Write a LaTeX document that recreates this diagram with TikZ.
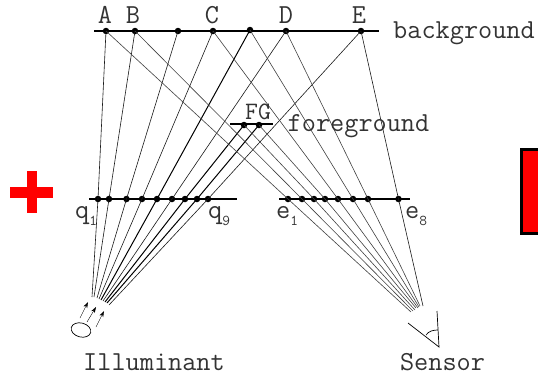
\documentclass[tikz,border=0pt]{standalone}
\usepackage{tikz}
\usetikzlibrary{positioning,arrows.meta,shapes.geometric}
\usepackage{xcolor}
\newcommand{\subnum}[1]{\raisebox{-7pt}{\fontsize{15}{15}\selectfont #1}}
\begin{document}
\begin{tikzpicture}[
      x=1pt, y=-1pt,
      dot/.style={circle, fill=black, inner sep=0pt, minimum size=6.5pt},
      lbl/.style={font=\fontsize{27.5}{30}\ttfamily, inner sep=0pt, text=black!80},
      surface/.style={line width=1.5pt},
      ray/.style={line width=0.6pt, black!90},
      rayfg/.style={line width=1pt},
      >={Stealth[length=6pt, width=4pt]}]
    \useasboundingbox (0,0) rectangle (538,375);
    % surfaces
    \coordinate (bgl) at (94,31);
    \coordinate (bgr) at (379,31);
    \coordinate (fgl) at (230,124);
    \coordinate (fgr) at (273,124);
    \coordinate (ql) at (89,199);
    \coordinate (qr) at (237,199);
    \coordinate (el) at (279,199);
    \coordinate (er) at (410,199);
    \draw[surface] (bgl) -- (bgr);
    \draw[line width=2pt] (fgl) -- (fgr);
    \draw[surface] (ql) -- (qr);
    \draw[surface] (el) -- (er);
    % points on the background
    \foreach \name/\px/\py in {A/106/31, B/135/31, X/178/31, C/213/31, Y/250/30, D/286/31, E/361/31, F/244/125, G/259/125}
      \node[dot] (\name) at (\px,\py) {};
    % points on the q and e lines
    \foreach \i/\px in {1/98, 2/109, 3/126.5, 4/142, 5/157, 6/172, 7/185, 8/197, 9/208}
      \node[dot] (q\i) at (\px,199) {};
    \foreach \i/\px in {1/288, 2/302, 3/314, 4/325, 5/338, 6/353, 7/368, 8/398.5}
      \node[dot] (e\i) at (\px,199) {};
    % ray ends near illuminant and sensor
    \foreach \i/\px/\py in {1/92/297, 2/94/297, 3/97/298, 4/99/299, 5/101/300, 6/103/301, 7/105/302, 8/107/303, 9/109/305}
      \coordinate (il\i) at (\px,\py);
    \foreach \i/\px/\py in {1/411/312, 2/413/311, 3/415/310, 4/416/308, 5/418/308, 6/419/307, 7/420/306, 8/423/306}
      \coordinate (se\i) at (\px,\py);
    % rays to illuminant
    \foreach \from/\i in {A/1, B/2, X/3, C/4, D/6, E/9}
      \draw[ray] (\from.center) -- (q\i.center) -- (il\i);
    \draw[rayfg] (Y.center) -- (q5.center) -- (il5);
    \draw[rayfg] (F.center) -- (q7.center) -- (il7);
    \draw[rayfg] (G.center) -- (q8.center) -- (il8);
    % rays to sensor
    \foreach \from/\i in {A/1, B/2, F/3, G/4, C/5, Y/6, D/7}
      \draw[ray, black!75] (\from.center) -- (e\i.center) -- (se\i);
    \draw[ray] (E.center) -- (e8.center) -- (se8);
    % labels
    \node[lbl] (lblA) at (105,15) {A};
    \node[lbl] (lblB) at (133,15) {B};
    \node[lbl] (lblC) at (212,15) {C};
    \node[lbl] (lblD) at (286,15) {D};
    \node[lbl] (lblE) at (359,15) {E};
    \node[lbl] (lblbg) at (464,33) {background};
    \node[lbl] (lblfg) at (358.5,126) {foreground};
    \node[lbl, font=\fontsize{25}{30}\ttfamily] (lblFG) at (258,112) {FG};
    \node[lbl, anchor=base west] (lblq1) at (75,218) {q\subnum{1}};
    \node[lbl, anchor=base west] (lblq9) at (208,218) {q\subnum{9}};
    \node[lbl, anchor=base west] (lble1) at (276,218) {e\subnum{1}};
    \node[lbl, anchor=base west] (lble8) at (405,218) {e\subnum{8}};
    \node[lbl] (lblil) at (154,362) {Illuminant};
    \node[lbl] (lblse) at (442.5,362) {Sensor};
    % illuminant
    \node[draw, line width=0.7pt, ellipse, rotate=-15, minimum width=20pt, minimum height=14pt, inner sep=0pt] (lamp) at (81,330) {};
    \coordinate (a1s) at (80,318); \coordinate (a1e) at (88,302);
    \coordinate (a2s) at (87,322); \coordinate (a2e) at (96,307);
    \coordinate (a3s) at (96,327); \coordinate (a3e) at (104,311);
    \draw[->] (a1s) -- (a1e);
    \draw[->] (a2s) -- (a2e);
    \draw[->] (a3s) -- (a3e);
    % sensor
    \coordinate (eyel) at (408,323);
    \coordinate (eyec) at (439,347);
    \coordinate (eyer) at (437,311);
    \draw[line width=0.7pt] (eyel) -- (eyec) -- (eyer);
    \coordinate (irisl) at (426,335);
    \coordinate (irisr) at (438,330);
    \draw[line width=0.7pt] (irisl) .. controls (429,331) and (433,330) .. (irisr);
    % plus and box
    \fill[red] (10,187) rectangle (53,198);
    \fill[red] (27,171) rectangle (37,213);
    \draw[line width=3pt, fill=red] (521.5,149.5) rectangle (545,233.5);
  \end{tikzpicture}
\end{document}
